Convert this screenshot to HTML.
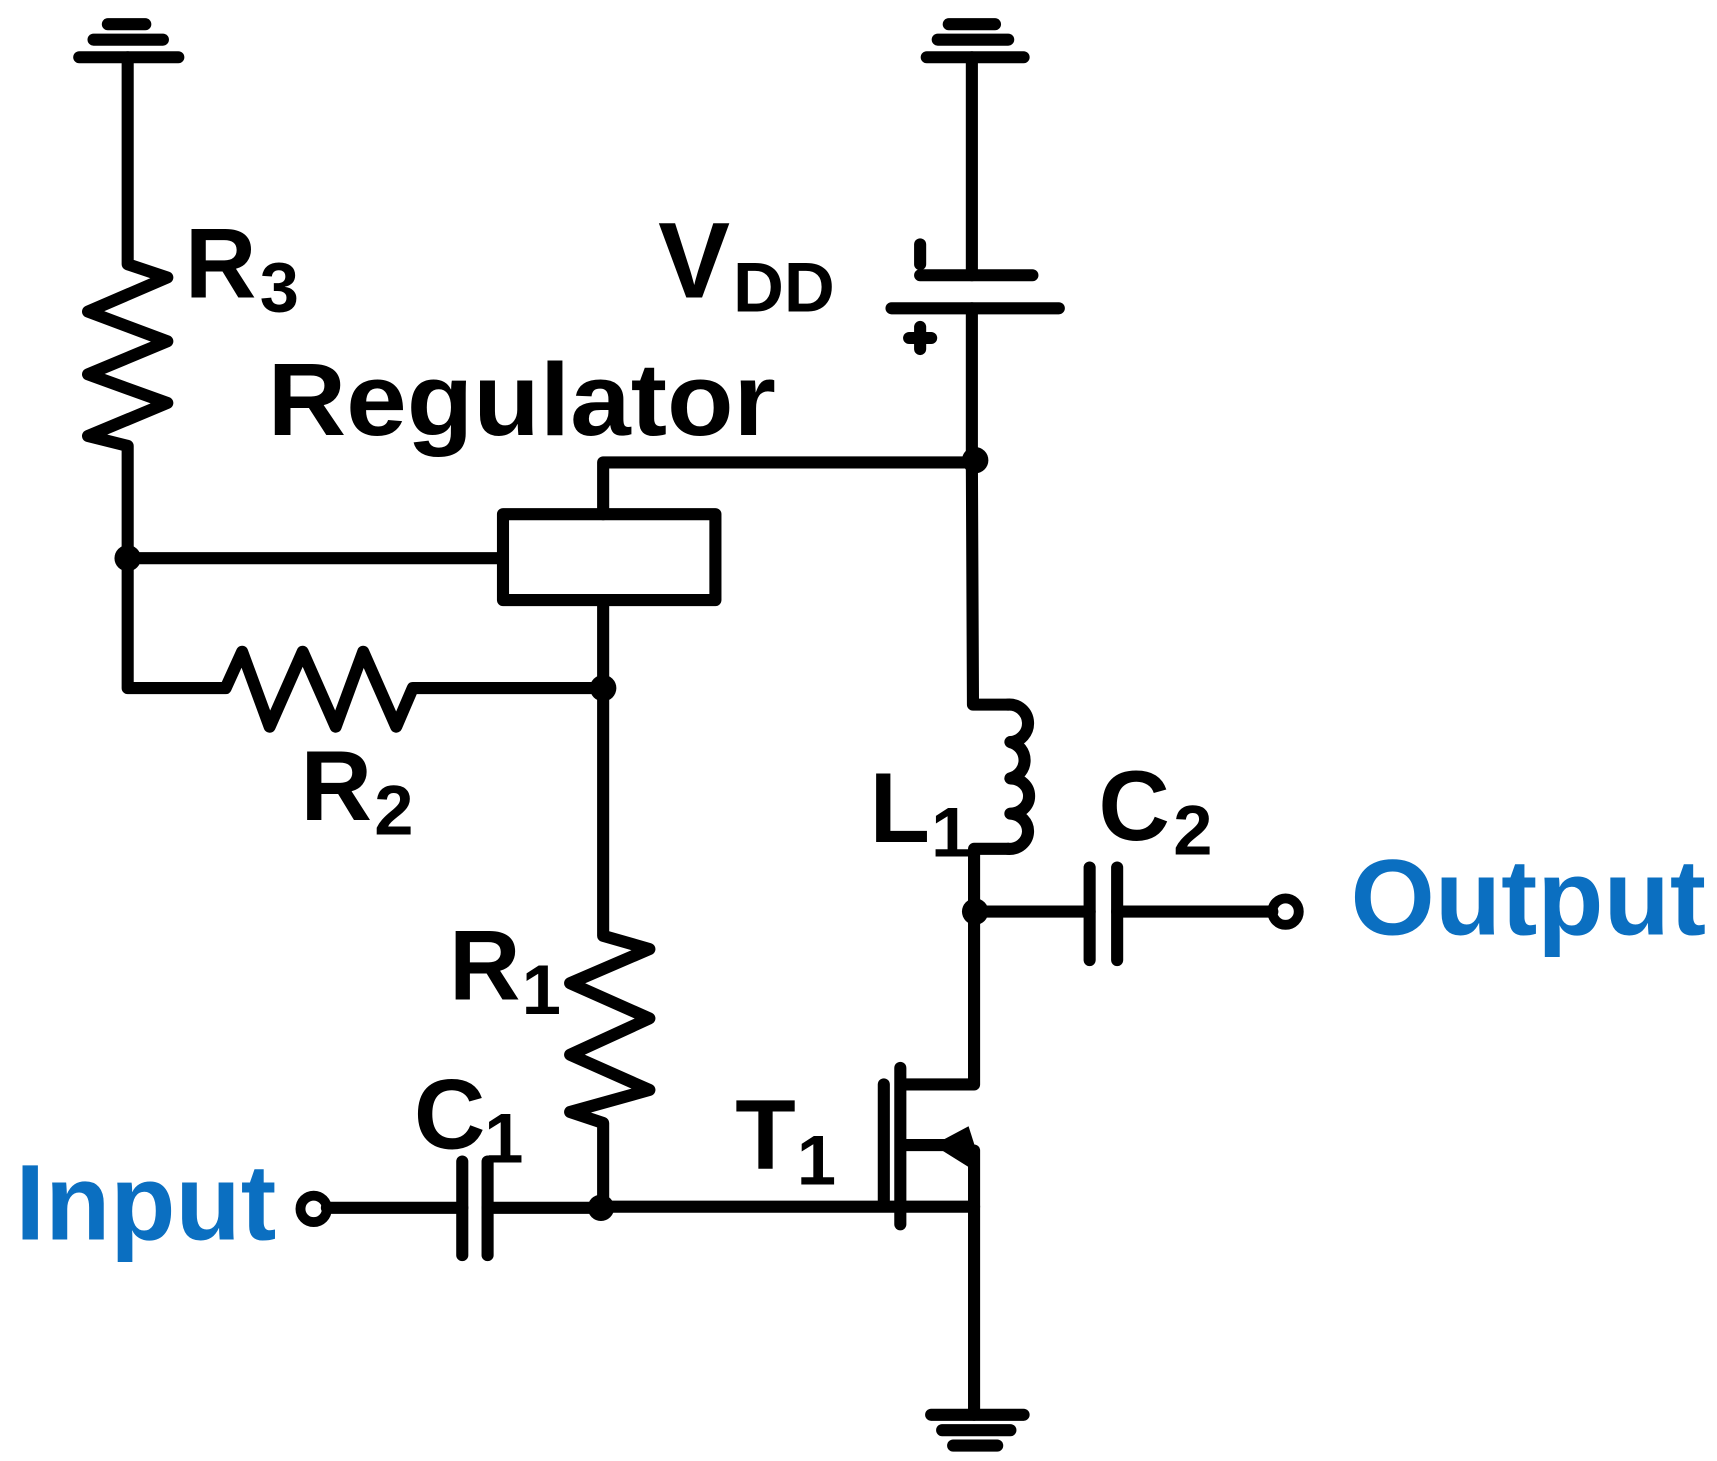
<!DOCTYPE html>
<html><head><meta charset="utf-8"><style>html,body{margin:0;padding:0;background:#fff}svg{display:block}</style></head>
<body>
<svg width="1717" height="1461" viewBox="0 0 1560 1327" preserveAspectRatio="none" xmlns="http://www.w3.org/2000/svg">
<g fill="none" stroke="#000" stroke-width="11" stroke-linecap="round" stroke-linejoin="round">
<line x1="98" y1="22" x2="132" y2="22"/><line x1="85" y1="36" x2="148" y2="36"/><line x1="72" y1="52" x2="162" y2="52"/>
<polyline points="116,52 116,240 152,252 80,283 152,310 80,340 152,366 80,396 116,405 116,625 205,625 220,592 245,660 275,592 305,660 330,592 360,660 375,625 548,625"/>
<line x1="116" y1="507" x2="455" y2="507"/>
<rect x="457" y="467" width="193" height="78"/>
<polyline points="548,467 548,420 886,420"/>
<polyline points="548,545 548,850 590,862 518,893 590,925 518,958 590,990 518,1010 548,1020 548,1097"/>
<line x1="862" y1="22" x2="904" y2="22"/><line x1="852" y1="36" x2="916" y2="36"/><line x1="842" y1="52" x2="930" y2="52"/>
<line x1="883" y1="52" x2="883" y2="250"/>
<line x1="836" y1="250" x2="938" y2="250"/>
<line x1="810" y1="280" x2="962" y2="280"/>
<line x1="836" y1="222" x2="836" y2="240"/>
<line x1="826" y1="307" x2="846" y2="307"/><line x1="836" y1="297" x2="836" y2="317"/>
<line x1="883" y1="280" x2="883" y2="420"/>
<polyline points="883,420 884,640 916,640"/>
<path d="M916,640 A17,17 0 0 1 918,674 A17,17 0 0 1 918,707 A17,16 0 0 1 918,739 A17,16 0 0 1 916,771"/>
<polyline points="916,771 885,771 885,985 822,985"/>
<line x1="886" y1="828" x2="990" y2="828"/>
<line x1="990" y1="788" x2="990" y2="872"/><line x1="1015" y1="788" x2="1015" y2="872"/>
<line x1="1015" y1="828" x2="1156" y2="828"/>
<circle cx="1168" cy="828" r="12" stroke-width="9"/>
<line x1="803" y1="985" x2="803" y2="1090"/>
<line x1="818" y1="970" x2="818" y2="1112"/>
<line x1="822" y1="1040" x2="860" y2="1040"/>
<polyline points="885,1045 885,1285"/>
<line x1="548" y1="1096" x2="885" y2="1096"/>
<line x1="846" y1="1285" x2="930" y2="1285"/><line x1="856" y1="1299" x2="918" y2="1299"/><line x1="866" y1="1313" x2="906" y2="1313"/>
<circle cx="285" cy="1098" r="12" stroke-width="9"/>
<line x1="297" y1="1097" x2="420" y2="1097"/>
<line x1="420" y1="1055" x2="420" y2="1140"/><line x1="443" y1="1055" x2="443" y2="1140"/>
<line x1="443" y1="1097" x2="548" y2="1097"/>
</g>
<polygon points="848,1040 880,1023 887,1045 880,1060" fill="#000"/>
<g fill="#000">
<circle cx="116" cy="507" r="12"/><circle cx="548" cy="625" r="12"/><circle cx="886" cy="418" r="12"/>
<circle cx="886" cy="828" r="12"/><circle cx="546" cy="1097" r="12"/>
</g>
<g font-family="Liberation Sans, sans-serif" font-weight="bold" fill="#000">
<text x="168" y="270" font-size="90">R</text><text x="236" y="283" font-size="64">3</text>
<text x="598" y="270" font-size="98">V</text><text x="666" y="283" font-size="64">DD</text>
<text x="243" y="395" font-size="94" textLength="462" lengthAdjust="spacingAndGlyphs">Regulator</text>
<text x="273" y="745" font-size="90">R</text><text x="340" y="758" font-size="64">2</text>
<text x="790" y="765" font-size="90">L</text><text x="846" y="778" font-size="64">1</text>
<text x="998" y="763" font-size="90">C</text><text x="1066" y="776" font-size="64">2</text>
<text x="408" y="908" font-size="90">R</text><text x="474" y="921" font-size="64">1</text>
<text x="376" y="1043" font-size="90">C</text><text x="440" y="1056" font-size="64">1</text>
<text x="668" y="1062" font-size="90">T</text><text x="724" y="1076" font-size="64">1</text>
</g>
<g font-family="Liberation Sans, sans-serif" font-weight="bold" fill="#0b6fc1">
<text x="14" y="1126" font-size="98" textLength="237" lengthAdjust="spacingAndGlyphs">Input</text>
<text x="1227" y="849" font-size="98" textLength="323" lengthAdjust="spacingAndGlyphs">Output</text>
</g>
</svg>
</body></html>
